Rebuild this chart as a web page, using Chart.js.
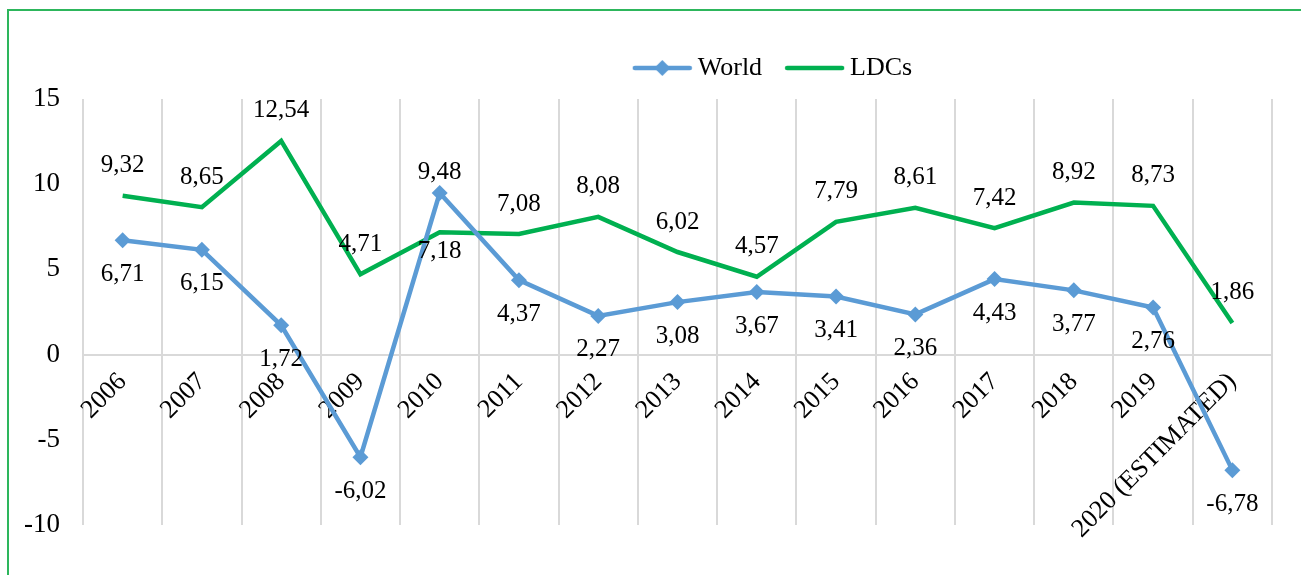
<!DOCTYPE html>
<html>
<head>
<meta charset="utf-8">
<script src="https://cdn.jsdelivr.net/npm/chart.js@4.4.1/dist/chart.umd.min.js"></script>
<style>
    html, body { margin: 0; padding: 0; background: #fff; overflow: hidden; }
    #wrap { position: relative; width: 1301px; height: 575px; }
    #frame {
        position: absolute; left: 7px; top: 9px; width: 1400px; height: 700px;
        border: 2px solid #2db65c; pointer-events: none;
    }
</style>
</head>
<body>
<div id="wrap">
    <canvas id="growthChart" width="1301" height="575"></canvas>
    <div id="frame"></div>
</div>
<script>
// ================= DATA =================
const years = ["2006", "2007", "2008", "2009", "2010", "2011", "2012", "2013",
    "2014", "2015", "2016", "2017", "2018", "2019", "2020 (ESTIMATED)"];

const worldGrowth = [6.71, 6.15, 1.72, -6.02, 9.48, 4.37, 2.27, 3.08, 3.67, 3.41, 2.36, 4.43, 3.77, 2.76, -6.78];
const ldcGrowth = [9.32, 8.65, 12.54, 4.71, 7.18, 7.08, 8.08, 6.02, 4.57, 7.79, 8.61, 7.42, 8.92, 8.73, 1.86];

const yTicks = [-10, -5, 0, 5, 10, 15];

const BLUE = "#5b9bd5";
const GREEN = "#00b050";
const FONT = "Liberation Serif";

Chart.defaults.font.family = FONT;
Chart.defaults.color = "#000";

// legend icons: line with a marker in the middle, like the office legend
function legendIcon(color, diamond) {
    const c = document.createElement("canvas");
    c.width = 61;
    c.height = 20;
    const g = c.getContext("2d");
    g.strokeStyle = color;
    g.lineWidth = 4.5;
    g.lineCap = "round";
    g.beginPath();
    g.moveTo(3, 10);
    g.lineTo(58, 10);
    g.stroke();
    if (diamond) {
        g.fillStyle = color;
        g.beginPath();
        g.moveTo(30.5, 2);
        g.lineTo(38.5, 10);
        g.lineTo(30.5, 18);
        g.lineTo(22.5, 10);
        g.closePath();
        g.fill();
    }
    return c;
}
const legendIcons = [legendIcon(BLUE, true), legendIcon(GREEN, false)];

// ================= VALUE LABELS =================
const valueLabels = {
    id: "valueLabels",
    afterDatasetsDraw(chart, args, opts) {
        const ctx = chart.ctx;
        ctx.save();
        ctx.font = "25px " + FONT;
        ctx.fillStyle = "#000";
        ctx.textAlign = "center";
        ctx.textBaseline = "middle";
        chart.data.datasets.forEach((ds, i) => {
            const meta = chart.getDatasetMeta(i);
            const flips = opts.flipped[i] || [];
            meta.data.forEach((pt, j) => {
                let below = opts.below[i];
                if (flips.includes(j)) below = !below;
                let dy;
                if (flips.includes(j)) dy = below ? 19 : -21;
                else dy = below ? 34 : -30;
                const txt = ds.data[j].toFixed(2).replace(".", ",");
                ctx.fillText(txt, pt.x, pt.y + dy);
            });
        });
        ctx.restore();
    }
};

// shift legend to where the original had it
const legendPlace = {
    id: "legendPlace",
    afterLayout(chart, args, opts) {
        const lg = chart.legend;
        lg.left += opts.dx;
        lg.right += opts.dx;
        lg.top += opts.dy;
        lg.bottom += opts.dy;
    }
};

const growthChart = new Chart(document.getElementById("growthChart"), {
    type: "line",

    data: {
        labels: years,

        datasets: [
            {
                label: "World",
                data: worldGrowth,
                borderColor: BLUE,
                backgroundColor: BLUE,
                borderWidth: 4.5,
                tension: 0,
                pointStyle: "rectRot",
                pointRadius: 8,
                pointHoverRadius: 8,
                pointBackgroundColor: BLUE,
                pointBorderWidth: 0
            },
            {
                label: "LDCs",
                data: ldcGrowth,
                borderColor: GREEN,
                backgroundColor: GREEN,
                borderWidth: 4.5,
                tension: 0,
                pointRadius: 0,
                pointHoverRadius: 0
            }
        ]
    },

    plugins: [valueLabels, legendPlace],

    options: {
        responsive: false,
        animation: false,
        layout: {
            padding: { left: 0, right: 29, top: 33, bottom: 50 }
        },

        plugins: {
            legend: {
                position: "top",
                align: "center",
                labels: {
                    font: { size: 26 },
                    color: "#000",
                    usePointStyle: true,
                    pointStyleWidth: 45,
                    padding: 30,
                    generateLabels(chart) {
                        const items = Chart.defaults.plugins.legend.labels.generateLabels(chart);
                        items.forEach((it, i) => { it.pointStyle = legendIcons[i]; });
                        return items;
                    }
                }
            },
            tooltip: { enabled: false },
            valueLabels: {
                below: [true, false],
                flipped: [[4], [4]]
            },
            legendPlace: { dx: 140, dy: -8 }
        },

        scales: {
            x: {
                position: { y: 0 },
                offset: true,
                afterFit(scale) { scale.height = 0; },
                grid: {
                    display: true,
                    offset: true,
                    color: "#d9d9d9",
                    lineWidth: 2,
                    drawTicks: false
                },
                border: { display: true, color: "#d9d9d9", width: 2 },
                ticks: {
                    autoSkip: false,
                    minRotation: 45,
                    maxRotation: 45,
                    padding: 12,
                    font: { size: 26 },
                    color: "#000"
                }
            },

            y: {
                min: -10,
                max: 15,
                afterFit(scale) { scale.width = 83; },
                afterBuildTicks(scale) { scale.ticks = yTicks.map(v => ({ value: v })); },
                grid: { display: false, drawTicks: false },
                border: { display: false },
                ticks: {
                    padding: 23,
                    font: { size: 27 },
                    color: "#000"
                }
            }
        }
    }
});
</script>
</body>
</html>
